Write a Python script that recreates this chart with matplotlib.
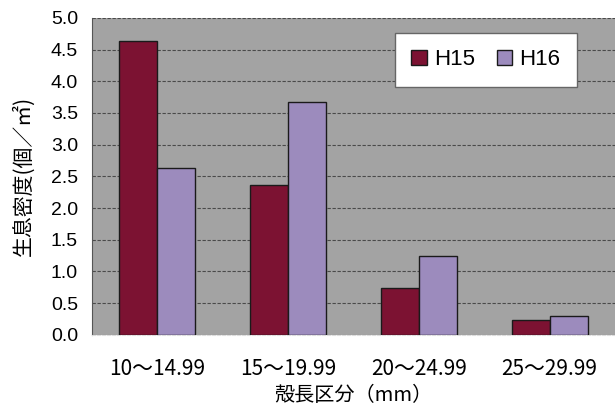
import matplotlib.pyplot as plt
import numpy as np

plt.rcParams['font.family'] = ['Noto Sans CJK JP', 'DejaVu Sans']

categories = ['10～14.99', '15～19.99', '20～24.99', '25～29.99']
h15 = [4.64, 2.37, 0.74, 0.24]
h16 = [2.63, 3.67, 1.25, 0.30]
y_ticks = [0.0, 0.5, 1.0, 1.5, 2.0, 2.5, 3.0, 3.5, 4.0, 4.5, 5.0]

fig = plt.figure(figsize=(6.15, 4.16), dpi=100)
ax = fig.add_axes([0.1496, 0.195, 0.8504, 0.762])
ax.set_facecolor('#a3a3a3')

x = np.arange(len(categories))
w = 0.29
ax.bar(x - w / 2, h15, w, color='#7c1232', edgecolor='#1a1a1a', linewidth=1, label='H15', zorder=3)
ax.bar(x + w / 2, h16, w, color='#9c8bbd', edgecolor='#1a1a1a', linewidth=1, label='H16', zorder=3)

ax.set_xlim(-0.5, 3.5)
ax.set_ylim(0, 5)
ax.set_yticks(y_ticks)
ax.set_yticklabels([f'{v:.1f}' for v in y_ticks], fontsize=14, family=['Liberation Sans'])
ax.set_xticks(x)
ax.set_xticklabels(categories, fontsize=15)
ax.tick_params(axis='y', length=0, pad=10)
ax.tick_params(axis='x', length=0, pad=17)
ax.yaxis.grid(True, color='#4a4a4a', linestyle=(0, (3, 1.5)), linewidth=0.8, zorder=1)

for side in ['top', 'right']:
    ax.spines[side].set_visible(False)
ax.spines['left'].set_color('#555555')
ax.spines['bottom'].set_color('#dddddd')
ax.spines['bottom'].set_linestyle((0, (3, 1.5)))

ax.set_ylabel('生息密度(個／㎡)', fontsize=15, labelpad=12)
ax.set_xlabel('殻長区分（mm）', fontsize=14.5, labelpad=3)

leg = ax.legend(loc='upper right', bbox_to_anchor=(0.927, 0.953), borderaxespad=0, ncol=2,
                prop={'family': 'Liberation Sans', 'size': 16},
                frameon=True, fancybox=False, edgecolor='#666666', facecolor='white',
                framealpha=1, handlelength=0.7, handleheight=0.7, handletextpad=0.3,
                columnspacing=1.0, borderpad=0.75)

fig.savefig('out.png', dpi=100)
